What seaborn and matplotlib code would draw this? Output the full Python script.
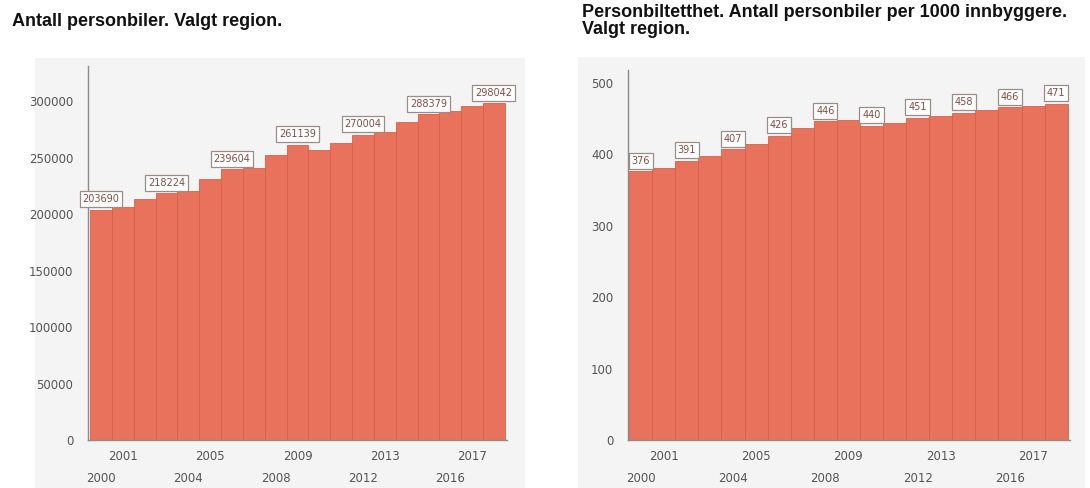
import matplotlib
matplotlib.use("Agg")
import matplotlib.pyplot as plt
import seaborn as sns
import pandas as pd
from matplotlib.patches import Rectangle

# Data
years = list(range(2000, 2019))
cars = [203690, 206500, 213000, 218224, 220500, 231000, 239604, 241000,
        252500, 261139, 256500, 263000, 270004, 273000, 281000, 288379,
        291500, 295500, 298042]
density = [376, 381, 391, 397, 407, 415, 426, 437, 446, 448, 440, 444,
           451, 453, 458, 462, 466, 468, 471]
cars_labeled = [2000, 2003, 2006, 2009, 2012, 2015, 2018]
density_labeled = [2000, 2002, 2004, 2006, 2008, 2010, 2012, 2014, 2016, 2018]
upper_row_years = [2001, 2005, 2009, 2013, 2017]
lower_row_years = [2000, 2004, 2008, 2012, 2016]

title_left = "Antall personbiler. Valgt region."
title_right = "Personbiltetthet. Antall personbiler per 1000 innbyggere.\nValgt region."

sns.set_theme(style="white")
plt.rcParams["font.family"] = ["DejaVu Sans"]

BAR = "#e8725c"
EDGE = "#d6614c"
PANEL = "#f4f4f4"
AXC = "#8c8c8c"
TXT = "#555555"

W, H = 1090, 488
fig = plt.figure(figsize=(W / 100, H / 100), dpi=100, facecolor="white")


def fx(px):
    return px / W


def fy(py):
    return 1 - py / H


# light grey panels behind each chart
for x0, x1, y0 in [(35, 525, 58), (578, 1085, 57)]:
    fig.patches.append(Rectangle((fx(x0), 0), fx(x1) - fx(x0), fy(y0),
                                 transform=fig.transFigure,
                                 facecolor=PANEL, edgecolor="none", zorder=-5))

fig.text(fx(12), fy(21), title_left, fontsize=13, fontweight="bold",
         family="Liberation Sans", color="#111111", va="center", ha="left")
fig.text(fx(582), fy(21), title_right, fontsize=13, fontweight="bold",
         family="Liberation Sans", color="#111111", va="center", ha="left",
         linespacing=1.05)


def draw(ax, values, labeled, ymax, yticks, xlim):
    df = pd.DataFrame({"year": years, "value": values})
    sns.barplot(data=df, x="year", y="value", color=BAR, saturation=1,
                width=1.0, edgecolor=EDGE, linewidth=0.6, ax=ax)
    ax.set_facecolor("none")
    ax.set_xlim(*xlim)
    ax.set_ylim(0, ymax)
    ax.set_yticks(yticks)
    ax.set_yticklabels([str(t) for t in yticks])
    ax.set_xticks([years.index(y) for y in upper_row_years])
    ax.set_xticklabels([str(y) for y in upper_row_years])
    ax.set_xticks([years.index(y) for y in lower_row_years], minor=True)
    ax.set_xticklabels([str(y) for y in lower_row_years], minor=True)
    ax.set_xlabel("")
    ax.set_ylabel("")
    for s in ["top", "right"]:
        ax.spines[s].set_visible(False)
    for s in ["left", "bottom"]:
        ax.spines[s].set_color(AXC)
        ax.spines[s].set_linewidth(1.0)
    ax.tick_params(axis="y", length=4.5, color=AXC, labelsize=8.5,
                   labelcolor=TXT, pad=6)
    ax.tick_params(axis="x", which="major", length=0, labelsize=8.5,
                   labelcolor=TXT, pad=7)
    ax.tick_params(axis="x", which="minor", length=0, labelsize=8.5,
                   labelcolor=TXT, pad=23)
    for y in labeled:
        i = years.index(y)
        v = values[i]
        ax.annotate(str(v), (i, v), xytext=(0, 4), textcoords="offset points",
                    ha="center", va="bottom", fontsize=7, color="#8a4a40",
                    bbox=dict(boxstyle="square,pad=0.3", facecolor="white",
                              edgecolor="#9a8c86", linewidth=0.9))


axL = fig.add_axes([fx(88), fy(440), fx(507) - fx(88), fy(66) - fy(440)])
draw(axL, cars, cars_labeled, 331000, list(range(0, 300001, 50000)), (-0.6, 18.6))

axR = fig.add_axes([fx(628), fy(440), fx(1070) - fx(628), fy(70) - fy(440)])
draw(axR, density, density_labeled, 518, list(range(0, 501, 100)), (-0.55, 18.6))

fig.savefig("out.png", dpi=100, facecolor="white")
